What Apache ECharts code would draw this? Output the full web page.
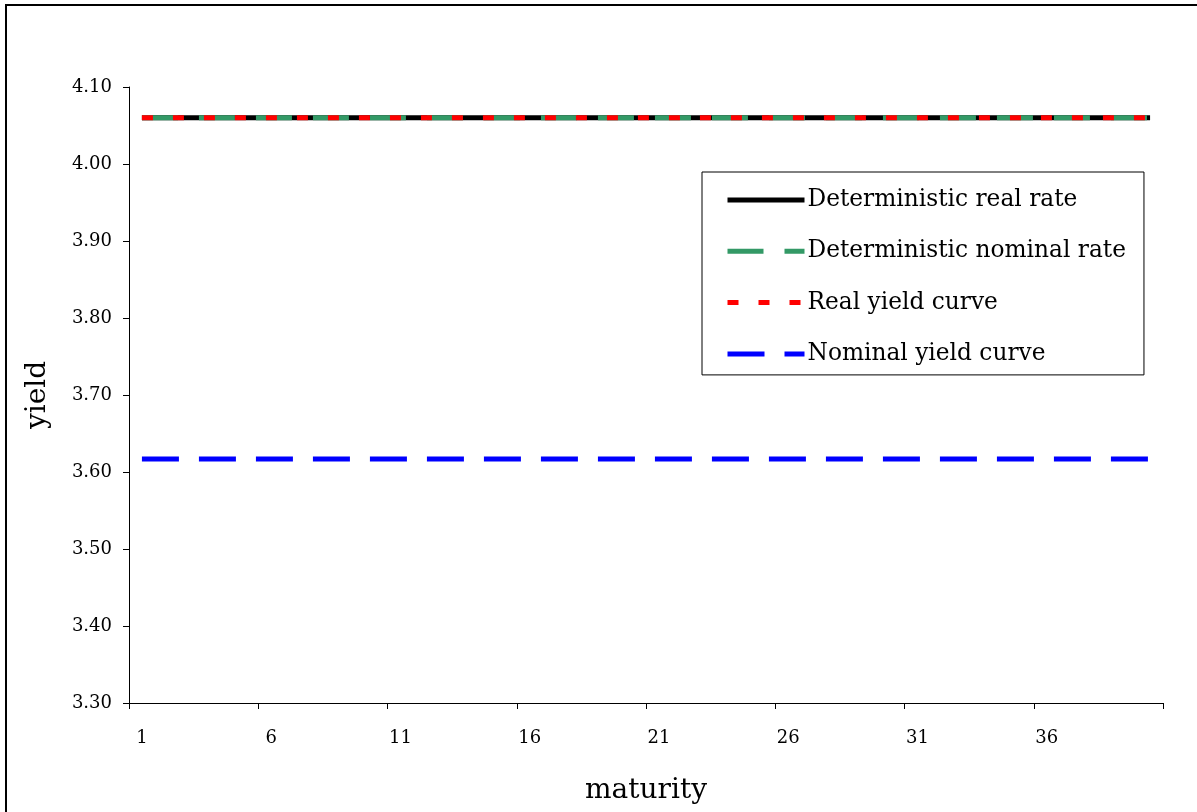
<!DOCTYPE html>
<html>
<head>
<meta charset="utf-8">
<script src="https://cdn.jsdelivr.net/npm/echarts@6/dist/echarts.min.js"></script>
<style>
html,body{margin:0;padding:0;background:#fff;}
#chart{width:1197px;height:812px;}
</style>
</head>
<body>
<div id="chart"></div>
<script>
const maturities = [1,2,3,4,5,6,7,8,9,10,11,12,13,14,15,16,17,18,19,20,21,22,23,24,25,26,27,28,29,30,31,32,33,34,35,36,37,38,39,40];
const detRealRate = [4.06,4.06,4.06,4.06,4.06,4.06,4.06,4.06,4.06,4.06,4.06,4.06,4.06,4.06,4.06,4.06,4.06,4.06,4.06,4.06,4.06,4.06,4.06,4.06,4.06,4.06,4.06,4.06,4.06,4.06,4.06,4.06,4.06,4.06,4.06,4.06,4.06,4.06,4.06,4.06];
const detNominalRate = [4.06,4.06,4.06,4.06,4.06,4.06,4.06,4.06,4.06,4.06,4.06,4.06,4.06,4.06,4.06,4.06,4.06,4.06,4.06,4.06,4.06,4.06,4.06,4.06,4.06,4.06,4.06,4.06,4.06,4.06,4.06,4.06,4.06,4.06,4.06,4.06,4.06,4.06,4.06,4.06];
const realYieldCurve = [4.06,4.06,4.06,4.06,4.06,4.06,4.06,4.06,4.06,4.06,4.06,4.06,4.06,4.06,4.06,4.06,4.06,4.06,4.06,4.06,4.06,4.06,4.06,4.06,4.06,4.06,4.06,4.06,4.06,4.06,4.06,4.06,4.06,4.06,4.06,4.06,4.06,4.06,4.06,4.06];
const nominalYieldCurve = [3.617,3.617,3.617,3.617,3.617,3.617,3.617,3.617,3.617,3.617,3.617,3.617,3.617,3.617,3.617,3.617,3.617,3.617,3.617,3.617,3.617,3.617,3.617,3.617,3.617,3.617,3.617,3.617,3.617,3.617,3.617,3.617,3.617,3.617,3.617,3.617,3.617,3.617,3.617,3.617];
const seriesNames = ['Deterministic real rate','Deterministic nominal rate','Real yield curve','Nominal yield curve'];
const xName = 'maturity';
const yName = 'yield';

const FONT = 'DejaVu Serif';
const chart = echarts.init(document.getElementById('chart'), null, {renderer:'canvas'});
chart.setOption({
  animation:false,
  backgroundColor:'#fff',
  graphic:[{type:'rect', shape:{x:6, y:5, width:1400, height:1000}, style:{fill:'none', stroke:'#000', lineWidth:2}, silent:true, z:-1}],
  grid:{left:129, right:34, top:87, bottom:109, containLabel:false},
  legend:{
    orient:'vertical', left:702, top:172,
    padding:[13,18,6,23],
    borderColor:'#000', borderWidth:1, backgroundColor:'#fff',
    itemWidth:77, itemHeight:10, itemGap:21.3,
    itemStyle:{opacity:0},
    lineStyle:{width:5, cap:'butt'},
    textStyle:{fontFamily:FONT, fontSize:23.3, color:'#000', lineHeight:30, padding:[0,0,0,-2]},
    data:seriesNames
  },
  xAxis:{
    type:'category', data:maturities, boundaryGap:true,
    name:xName, nameLocation:'middle', nameGap:74,
    nameTextStyle:{fontFamily:FONT, fontSize:28, color:'#000'},
    axisLine:{show:true, lineStyle:{color:'#000', width:1}},
    axisTick:{show:true, interval:4, length:6, alignWithLabel:false, lineStyle:{color:'#000', width:1}},
    axisLabel:{interval:4, fontFamily:FONT, fontSize:18, color:'#000', margin:26},
    splitLine:{show:false}
  },
  yAxis:{
    type:'value', min:3.3, max:4.1, interval:0.1,
    name:yName, nameLocation:'middle', nameGap:77,
    nameTextStyle:{fontFamily:FONT, fontSize:28, color:'#000'},
    axisLine:{show:true, lineStyle:{color:'#000', width:1}},
    axisTick:{show:true, length:6, lineStyle:{color:'#000'}},
    axisLabel:{fontFamily:FONT, fontSize:18, color:'#000', margin:17, formatter:v=>v.toFixed(2)},
    splitLine:{show:false}
  },
  series:[
    {name:seriesNames[0], type:'line', data:detRealRate, symbol:'none', z:2,
     lineStyle:{color:'#000', width:5, type:'solid', cap:'butt'}, itemStyle:{color:'#000'}},
    {name:seriesNames[1], type:'line', data:detNominalRate, symbol:'none', z:3,
     lineStyle:{color:'#339966', width:5, type:[36,21], cap:'butt'}, itemStyle:{color:'#339966'}},
    {name:seriesNames[2], type:'line', data:realYieldCurve, symbol:'none', z:4,
     lineStyle:{color:'#ff0000', width:5, type:[11,20], cap:'butt'}, itemStyle:{color:'#ff0000'}},
    {name:seriesNames[3], type:'line', data:nominalYieldCurve, symbol:'none', z:5,
     lineStyle:{color:'#0000ff', width:5, type:[37,20], cap:'butt'}, itemStyle:{color:'#0000ff'}}
  ]
});
</script>
</body>
</html>
